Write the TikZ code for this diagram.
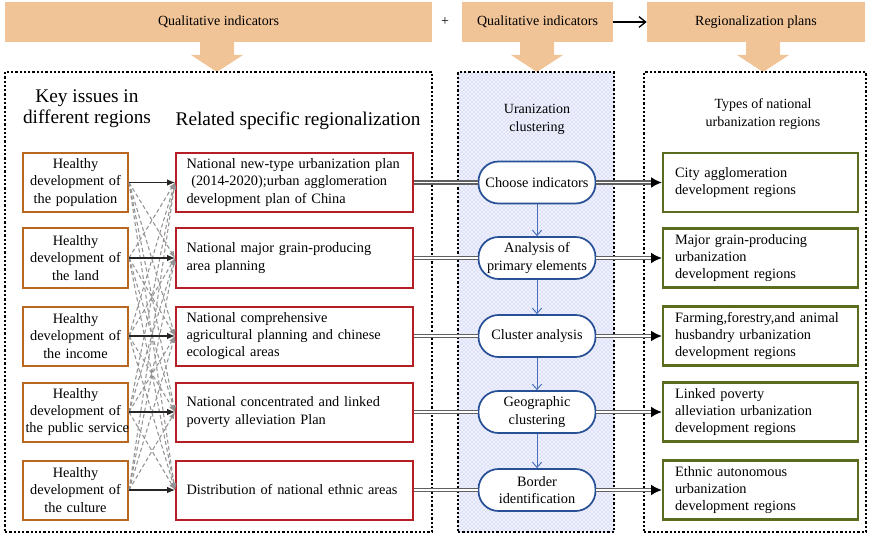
\documentclass[tikz,border=0pt]{standalone}
\usepackage{fontspec}
\setmainfont{Liberation Serif}
\usetikzlibrary{arrows.meta,positioning,calc,patterns}
\definecolor{tanc}{RGB}{241,196,152}
\definecolor{brownc}{RGB}{184,102,32}
\definecolor{redc}{RGB}{180,30,36}
\definecolor{greenc}{RGB}{92,108,30}
\definecolor{bluec}{RGB}{40,80,150}
\definecolor{bluea}{RGB}{70,110,185}

\begin{document}
\begin{tikzpicture}[x=0.75pt,y=-0.75pt,>=Stealth,
  bar/.style={fill=tanc,minimum height=30pt,inner sep=0pt,font=\fontsize{10.5}{13}\selectfont},
  frame/.style={draw,line width=1.7pt,dash pattern=on 1.7pt off 1.5pt,minimum height=345pt,inner sep=0pt},
  head/.style={align=center,font=\fontsize{14.5}{16}\selectfont},
  sub/.style={align=center,font=\fontsize{10.5}{13.5}\selectfont},
  issue/.style={draw=brownc,line width=1.5pt,fill=white,minimum width=78.75pt,minimum height=44.25pt,text width=75pt,align=center,inner sep=1pt,font=\fontsize{10.75}{13}\selectfont},
  plan/.style={draw=redc,line width=1.5pt,fill=white,text width=162pt,inner xsep=7.875pt,minimum height=44.25pt,align=left,font=\fontsize{10.75}{13}\selectfont},
  stage/.style={draw=bluec,line width=1.3pt,fill=white,rounded corners=15pt,minimum width=87.75pt,minimum height=31.5pt,align=center,inner sep=1pt,font=\fontsize{10.75}{13}\selectfont},
  region/.style={draw=greenc,line width=1.8pt,fill=white,text width=128.25pt,inner xsep=9pt,minimum height=44.25pt,align=left,font=\fontsize{10.75}{13}\selectfont},
  dbl/.style={draw=gray!75!black,double=white,double distance=1.4pt,line width=1pt},
  cross/.style={draw=gray!85,dash pattern=on 3pt off 2pt,line width=0.8pt,-{Latex[length=5pt,width=4pt]}},
  link/.style={black!85,line width=0.8pt,-{Latex[length=6pt,width=5pt]}},
  flow/.style={draw=bluea,line width=0.7pt,-{Straight Barb[length=4pt,width=7pt]}}]
\useasboundingbox (0,0) rectangle (873,534);
\foreach \x in {217,537,763}
  \fill[tanc] (\x-17,42) -- (\x+17,42) -- (\x+17,55) -- (\x+26,55) -- (\x,72) -- (\x-26,55) -- (\x-17,55) -- cycle;
\node[frame,minimum width=320.25pt] (b1) at (218.5,302) {};
\node[frame,minimum width=117pt,preaction={fill=blue!6},pattern=crosshatch dots,pattern color=bluea!50] (b2) at (536,302) {};
\node[frame,minimum width=166.5pt] (b3) at (755,302) {};
\node[bar,minimum width=320.25pt] (q1) at (218.5,22) {Qualitative indicators};
\node[bar,minimum width=113.25pt] (q2) at (537.5,22) {Qualitative indicators};
\node[bar,minimum width=163.5pt] (q3) at (756,22) {Regionalization plans};
\node[font=\fontsize{10.5}{13}\selectfont] (plus) at (445,22) {+};
\draw[-{Straight Barb[length=5pt,width=8pt]},line width=1pt] (q2) -- (q3);
\node[head] (t1) at (87,109) {Key issues in\\different regions};
\node[head] (t2) at (298,121) {Related specific regionalization};
\node[sub] (t3) at (537,119) {Uranization\\clustering};
\node[sub] (t4) at (763,114) {Types of national\\urbanization regions};
\node[issue] (l1) at (75.5,182.5) {Healthy\\development of\\the population};
\node[issue] (l2) at (75.5,258) {Healthy\\development of\\the land};
\node[issue] (l3) at (75.5,336) {Healthy\\development of\\the income};
\node[issue] (l4) at (75.5,412) {Healthy\\development of\\\mbox{the public service}};
\node[issue] (l5) at (75.5,490) {Healthy\\development of\\the culture};
\node[plan] (r1) at (294.5,182.5) {National new-type urbanization plan\\\ (2014-2020);urban agglomeration\\development plan of China};
\node[plan] (r2) at (294.5,258) {National major grain-producing\\area planning};
\node[plan] (r3) at (294.5,336) {National comprehensive\\agricultural planning and chinese\\ecological areas};
\node[plan] (r4) at (294.5,412) {National concentrated and linked\\poverty alleviation Plan};
\node[plan] (r5) at (294.5,490) {Distribution of national ethnic areas};
\node[stage] (m1) at (537,182.5) {Choose indicators};
\node[stage] (m2) at (537,258) {Analysis of\\primary elements};
\node[stage] (m3) at (537,336) {Cluster analysis};
\node[stage] (m4) at (537,412) {Geographic\\clustering};
\node[stage] (m5) at (537,490) {Border\\identification};
\node[region] (g1) at (760.5,182.5) {City agglomeration\\development regions};
\node[region] (g2) at (760.5,258) {Major grain-producing\\urbanization\\development regions};
\node[region] (g3) at (760.5,336) {Farming,forestry,and animal\\husbandry urbanization\\development regions};
\node[region] (g4) at (760.5,412) {Linked poverty\\alleviation urbanization\\development regions};
\node[region] (g5) at (760.5,490) {Ethnic autonomous\\urbanization\\development regions};
\foreach \i in {1,...,5}
  \foreach \j in {1,...,5}
    {\ifnum\i=\j\else\draw[cross] (l\i.east) -- (r\j.west);\fi}
\foreach \i in {1,...,5}
  {\draw[link] (l\i) -- (r\i);
   \draw[dbl] (r\i) -- (m\i);
   \draw[dbl,-{Latex[length=8pt,width=8pt,color=black]}] (m\i) -- (g\i);}
\foreach \i/\j in {1/2,2/3,3/4,4/5}
  \draw[flow] (m\i) -- (m\j);
\end{tikzpicture}
\end{document}
